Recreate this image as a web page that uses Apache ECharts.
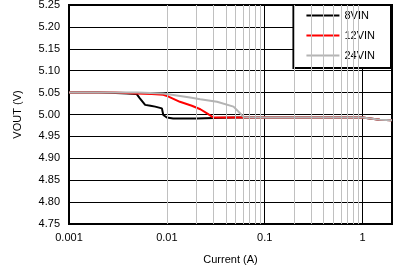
<!DOCTYPE html>
<html><head><meta charset="utf-8">
<script src="https://cdn.jsdelivr.net/npm/echarts@6/dist/echarts.min.js"></script>
<style>html,body{margin:0;padding:0;background:#fff}#c{width:406px;height:266px}</style>
</head><body><div id="c"></div>
<script>
const yTicks = [4.75,4.80,4.85,4.90,4.95,5.00,5.05,5.10,5.15,5.20,5.25];
const xDecades = [0.001,0.01,0.1,1];
const minorGrid = [0.002,0.003,0.004,0.005,0.006,0.007,0.008,0.009,0.02,0.03,0.04,0.05,0.06,0.07,0.08,0.09,0.2,0.3,0.4,0.5,0.6,0.7,0.8,0.9];

const x8 = [0.001,0.002,0.003,0.004,0.0049,0.0053,0.0060,0.0068,0.0076,0.0089,0.0092,0.0100,0.0116,0.02,0.03,0.05,0.1,0.3,1,1.5,2];
const y8 = [5.050,5.050,5.049,5.048,5.047,5.037,5.022,5.020,5.018,5.014,4.999,4.993,4.991,4.991,4.992,4.993,4.993,4.993,4.993,4.988,4.987];
const x12 = [0.001,0.003,0.0049,0.007,0.0092,0.0104,0.0136,0.018,0.022,0.026,0.030,0.05,0.1,0.3,1,1.5,2];
const y12 = [5.050,5.050,5.048,5.047,5.045,5.041,5.029,5.020,5.012,5.002,4.993,4.993,4.993,4.993,4.993,4.988,4.987];
const x24 = [0.001,0.005,0.0092,0.0173,0.0219,0.0326,0.048,0.056,0.061,0.1,0.3,1,1.5,2];
const y24 = [5.050,5.050,5.048,5.039,5.035,5.029,5.018,5.003,4.994,4.993,4.993,4.993,4.988,4.987];

const zip = (a,b)=>a.map((v,i)=>[v,b[i]]);
const font = 'Liberation Sans, Arial, sans-serif';
const chart = echarts.init(document.getElementById('c'), null, {renderer:'canvas'});
chart.setOption({
  animation:false,
  grid:{left:69,right:14,top:5,bottom:42,show:true,borderColor:'#000',borderWidth:2,backgroundColor:'transparent',
    containLabel:false,outerBoundsMode:'none'},
  xAxis:{type:'log',logBase:10,min:xDecades[0],max:2,
    name:'Current (A)',nameLocation:'middle',nameGap:30,
    nameTextStyle:{fontFamily:font,fontSize:11,color:'#000'},
    axisLine:{show:false},axisTick:{show:false},
    axisLabel:{fontFamily:font,fontSize:11,color:'#000',margin:8,showMaxLabel:false,
      formatter:v=>String(+v.toPrecision(3))},
    splitLine:{show:true,lineStyle:{color:'#000',width:1}}},
  yAxis:{type:'value',min:yTicks[0],max:yTicks[yTicks.length-1],interval:0.05,
    name:'VOUT (V)',nameLocation:'middle',nameGap:46,
    nameTextStyle:{fontFamily:font,fontSize:11,color:'#000'},
    axisLine:{show:false},axisTick:{show:false},
    axisLabel:{fontFamily:font,fontSize:11,color:'#000',margin:9,formatter:v=>v.toFixed(2)},
    splitLine:{show:true,lineStyle:{color:'#000',width:1}}},
  legend:{data:['8VIN','12VIN','24VIN'],orient:'vertical',right:15,top:5,
    backgroundColor:'#fff',borderColor:'#000',borderWidth:2,
    padding:[4,16,6,13],itemGap:7,itemWidth:33,itemHeight:2,
    icon:'rect',
    textStyle:{fontFamily:font,fontSize:11,color:'#000',lineHeight:13}},
  series:[
    {type:'line',name:'grid',data:[],silent:true,z:1,
      markLine:{silent:true,symbol:'none',label:{show:false},animation:false,
        lineStyle:{color:'#c0c0c0',width:1,type:'solid'},
        data:minorGrid.map(v=>({xAxis:v}))}},
    {type:'line',name:'8VIN',data:zip(x8,y8),showSymbol:false,z:3,
      lineStyle:{color:'#000',width:2},itemStyle:{color:'#000'}},
    {type:'line',name:'12VIN',data:zip(x12,y12),showSymbol:false,z:4,
      lineStyle:{color:'#ff0000',width:2},itemStyle:{color:'#ff0000'}},
    {type:'line',name:'24VIN',data:zip(x24,y24),showSymbol:false,z:5,
      lineStyle:{color:'#b4b4b4',width:2},itemStyle:{color:'#b4b4b4'}}
  ]
});
</script></body></html>
